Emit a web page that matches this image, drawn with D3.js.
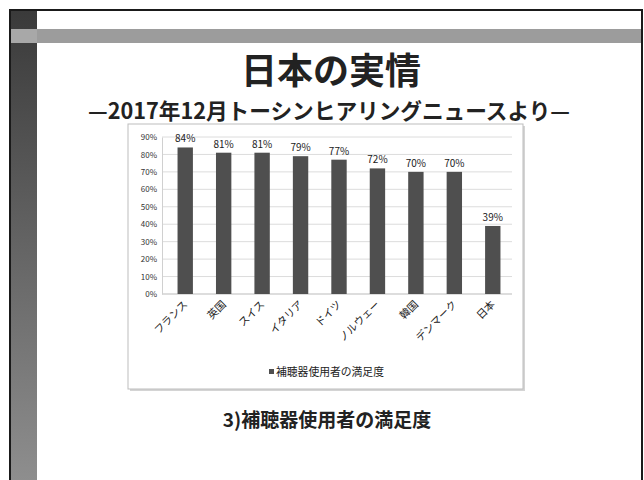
<!DOCTYPE html>
<html>
<head>
<meta charset="utf-8">
<script src="https://cdn.jsdelivr.net/npm/d3@7"></script>
<style>
  html, body { margin: 0; padding: 0; background: #fff; }
  svg { display: block; }
  text { font-family: "Noto Sans CJK JP", "Noto Sans", sans-serif; }
</style>
</head>
<body>
<svg id="slide" width="644" height="480"></svg>
<script>
// Survey data: hearing-aid user satisfaction by country (%)
const categories = ["フランス", "英国", "スイス", "イタリア", "ドイツ", "ノルウェー", "韓国", "デンマーク", "日本"];
const satisfaction = [84, 81, 81, 79, 77, 72, 70, 70, 39];
const yTicks = [0, 10, 20, 30, 40, 50, 60, 70, 80, 90];
const seriesName = "補聴器使用者の満足度";
const titleText = "日本の実情";
const subtitleText = "—2017年12月トーシンヒアリングニュースより—";
const captionText = "3)補聴器使用者の満足度";

const svg = d3.select("#slide");

// Slide background and frame
svg.append("rect").attr("width", 644).attr("height", 480).attr("fill", "#fff");

const defs = svg.append("defs");
const grad = defs.append("linearGradient").attr("id", "sideBar")
  .attr("x1", 0).attr("y1", 0).attr("x2", 0).attr("y2", 1);
grad.append("stop").attr("offset", "0%").attr("stop-color", "#3a3a3a");
grad.append("stop").attr("offset", "100%").attr("stop-color", "#8e8e8e");

svg.append("rect").attr("x", 11).attr("y", 11).attr("width", 26).attr("height", 469)
  .attr("fill", "url(#sideBar)");
svg.append("rect").attr("x", 11).attr("y", 29).attr("width", 631).attr("height", 14)
  .attr("fill", "#9c9c9c");
svg.append("rect").attr("x", 11).attr("y", 29).attr("width", 26).attr("height", 14)
  .attr("fill", "#a8a8a8");

svg.append("line").attr("x1", 9).attr("x2", 643).attr("y1", 10).attr("y2", 10)
  .attr("stroke", "#1a1a1a").attr("stroke-width", 2);
svg.append("line").attr("x1", 10).attr("x2", 10).attr("y1", 9).attr("y2", 480)
  .attr("stroke", "#1a1a1a").attr("stroke-width", 2);
svg.append("line").attr("x1", 642).attr("x2", 642).attr("y1", 9).attr("y2", 480)
  .attr("stroke", "#1a1a1a").attr("stroke-width", 2);

// Titles
svg.append("text").attr("x", 331).attr("y", 84).attr("text-anchor", "middle")
  .attr("font-size", 36).attr("font-weight", "bold").attr("fill", "#222")
  .text(titleText);
svg.append("text").attr("x", 329).attr("y", 119).attr("text-anchor", "middle")
  .attr("font-size", 22).attr("font-weight", "bold").attr("fill", "#222")
  .attr("textLength", 482).attr("lengthAdjust", "spacingAndGlyphs")
  .text(subtitleText);

// Chart box with soft shadow
svg.append("rect").attr("x", 130).attr("y", 126).attr("width", 395).attr("height", 265)
  .attr("fill", "#d4d4d4");
svg.append("rect").attr("x", 128).attr("y", 124).attr("width", 395).attr("height", 265)
  .attr("fill", "#fff").attr("stroke", "#bdbdbd").attr("stroke-width", 1);

// Scales
const x = d3.scaleBand().domain(categories).range([166, 512])
  .paddingInner(0.6).paddingOuter(0.3);
const y = d3.scaleLinear().domain([0, 90]).range([294, 137]);

// Gridlines
svg.append("g").selectAll("line").data(yTicks).join("line")
  .attr("x1", 162).attr("x2", 512)
  .attr("y1", d => y(d)).attr("y2", d => y(d))
  .attr("stroke", d => d === 0 ? "#bbb" : "#dcdcdc").attr("stroke-width", 1);

// Y axis
const yAxis = svg.append("g").attr("transform", "translate(162,0)")
  .call(d3.axisLeft(y).tickValues(yTicks).tickSize(0).tickPadding(5)
    .tickFormat(d => d + "%"));
yAxis.select(".domain").attr("stroke", "#d0d0d0");
yAxis.selectAll("text").attr("font-size", 8).attr("fill", "#333")
  .attr("font-family", "'Liberation Serif', serif");

// Bars
svg.append("g").selectAll("rect").data(satisfaction).join("rect")
  .attr("x", (d, i) => x(categories[i]))
  .attr("y", d => y(d))
  .attr("width", x.bandwidth())
  .attr("height", d => y(0) - y(d))
  .attr("fill", "#4f4f4f");

// Value labels
svg.append("g").selectAll("text").data(satisfaction).join("text")
  .attr("x", (d, i) => x(categories[i]) + x.bandwidth() / 2)
  .attr("y", d => y(d) - 5)
  .attr("text-anchor", "middle")
  .attr("font-size", 10).attr("fill", "#222")
  .attr("font-family", "'Liberation Serif', serif")
  .text(d => d + "%");

// Category labels (rotated)
svg.append("g").selectAll("text").data(categories).join("text")
  .attr("transform", d => `translate(${x(d) + x.bandwidth() / 2 + 3},305) rotate(-45)`)
  .attr("text-anchor", "end")
  .attr("font-size", 10.5).attr("fill", "#222")
  .text(d => d);

// Legend
const legend = svg.append("g").attr("transform", "translate(269,372)");
legend.append("rect").attr("x", 0).attr("y", -3).attr("width", 5).attr("height", 5)
  .attr("fill", "#4f4f4f");
legend.append("text").attr("x", 7).attr("y", 4).attr("font-size", 10.8).attr("fill", "#222")
  .text(seriesName);

// Caption
svg.append("text").attr("x", 327).attr("y", 427).attr("text-anchor", "middle")
  .attr("font-size", 19).attr("font-weight", "bold").attr("fill", "#222")
  .text(captionText);
</script>
</body>
</html>
